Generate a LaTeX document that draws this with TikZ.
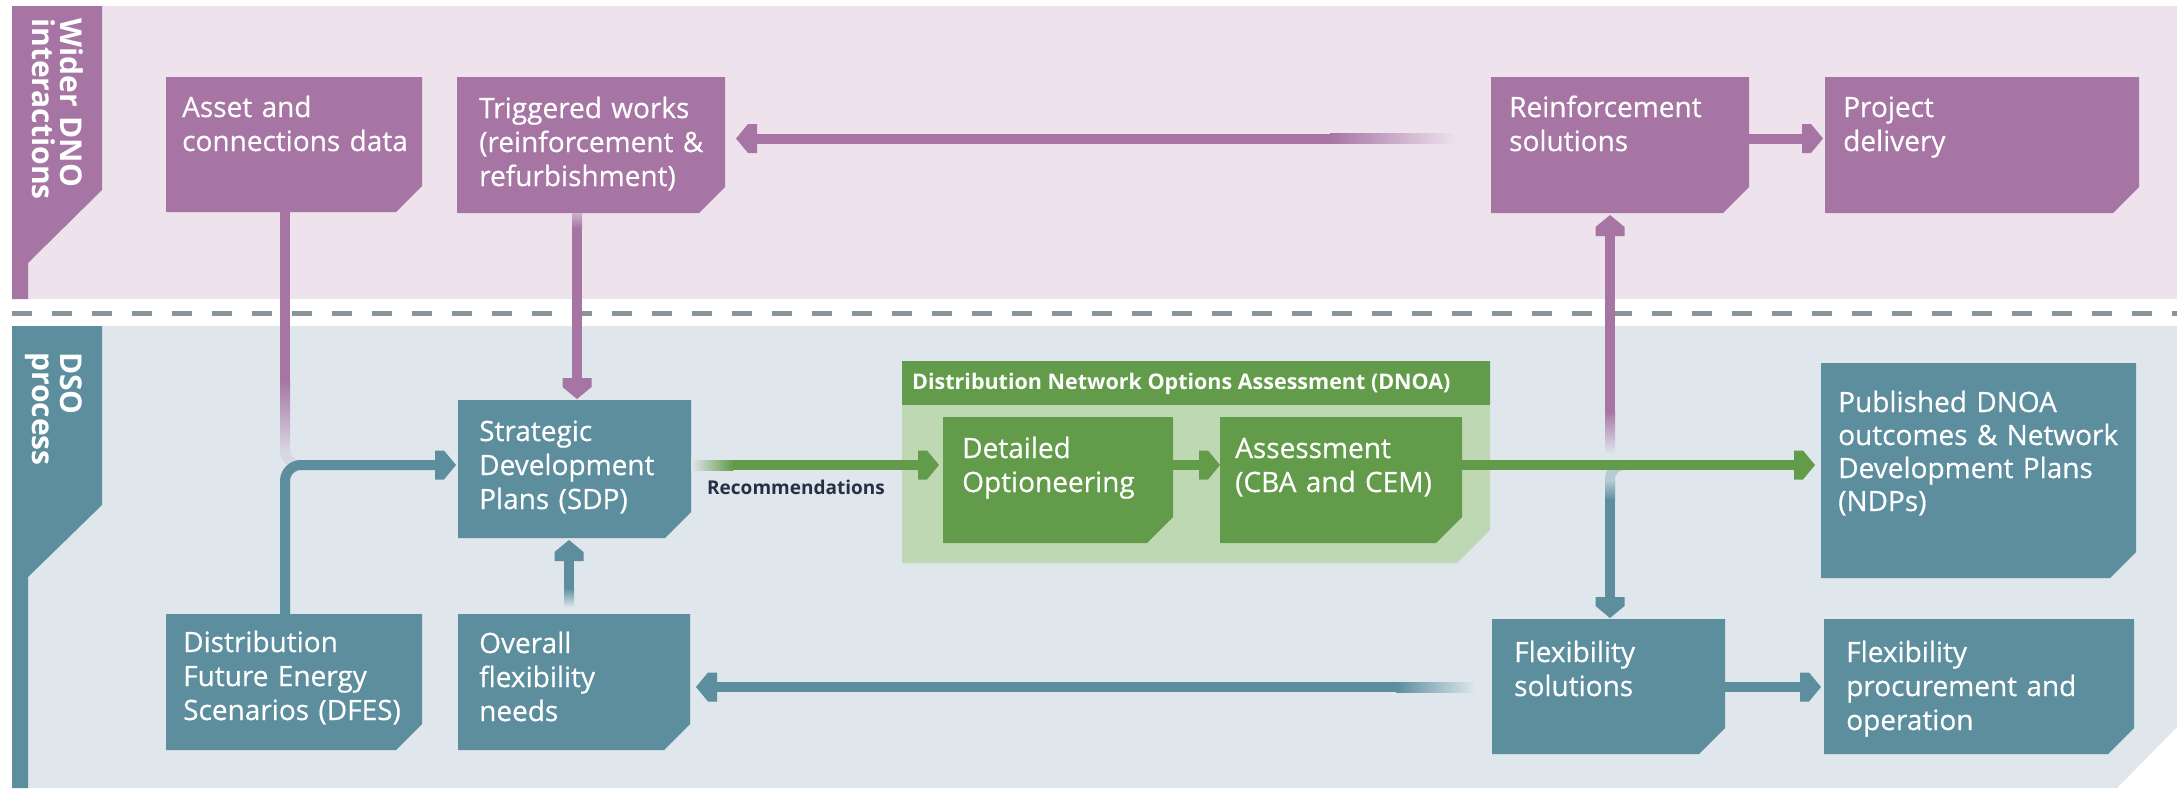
\documentclass[tikz,border=0pt]{standalone}
\usepackage{fontspec}
\setmainfont{Open Sans}
\newfontfamily\boxfont{Open Sans}[FakeBold=0.5]
\usetikzlibrary{arrows.meta}
\definecolor{pinkbg}{RGB}{238,226,236}
\definecolor{bluebg}{RGB}{223,230,236}
\definecolor{purp}{RGB}{166,117,164}
\definecolor{tealx}{RGB}{92,142,158}
\definecolor{grn}{RGB}{98,155,73}
\definecolor{lgrn}{RGB}{191,216,180}
\definecolor{dashgray}{RGB}{137,148,155}
\definecolor{navy}{RGB}{38,48,68}

\pgfdeclarearrow{
  name = Pent,
  setup code = {
    \pgfarrowssettipend{0pt}
    \pgfarrowssetlineend{-12pt}
    \pgfarrowssetbackend{-21pt}
    \pgfarrowshullpoint{0pt}{0pt}
    \pgfarrowshullpoint{-21pt}{14.5pt}
    \pgfarrowshullpoint{-21pt}{-14.5pt}
  },
  drawing code = {
    \pgfpathmoveto{\pgfqpoint{0pt}{0pt}}
    \pgfpathlineto{\pgfqpoint{-12pt}{14.5pt}}
    \pgfpathlineto{\pgfqpoint{-21pt}{14.5pt}}
    \pgfpathlineto{\pgfqpoint{-21pt}{-14.5pt}}
    \pgfpathlineto{\pgfqpoint{-12pt}{-14.5pt}}
    \pgfpathclose
    \pgfusepathqfill
  }
}

\newcommand{\chbox}[7]{%
  \fill[#2] (#3,#4) -- (#5,#4) -- (#5,#6-#7) -- (#5-#7,#6) -- (#3,#6) -- cycle;
  \node[boxnode, minimum width=#5-#3, minimum height=#6-#4] (#1) at ({(#3+#5)/2},{(#4+#6)/2}) {};
}

\begin{document}
\begin{tikzpicture}[x=1pt,y=-1pt,
  pl/.style={color=purp, line width=10pt},
  tl/.style={color=tealx, line width=10pt},
  gl/.style={color=grn, line width=10pt},
  boxnode/.style={inner sep=0pt, outer sep=0pt, rectangle},
  btxt/.style={inner sep=0pt, anchor=base west, align=left, text=white,
    font=\boxfont\fontsize{28}{34}\selectfont, text width=#1},
  btxt/.default=300pt,
  sidelbl/.style={inner sep=0pt, anchor=base west, align=left, text=white,
    font=\bfseries\fontsize{30}{28}\selectfont, text width=240pt, rotate=-90}
]
\fill[white] (0,0) rectangle (2177,788);
\useasboundingbox (0,0) rectangle (2177,788);

% bands
\fill[pinkbg] (12,6) rectangle (2177,299);
\fill[bluebg] (12,326) -- (2177,326) -- (2177,727) -- (2117,788) -- (12,788) -- cycle;
\draw[dashgray, line width=5pt, dash pattern=on 20pt off 20pt] (12,313) -- (2177,313);
\fill[purp] (12,6) -- (102,6) -- (102,190) -- (28,263) -- (28,299) -- (12,299) -- cycle;
\fill[tealx] (12,326) -- (102,326) -- (102,505) -- (28,577) -- (28,788) -- (12,788) -- cycle;
\node[sidelbl] (lblw) at (60,18) {Wider DNO\\interactions};
\node[sidelbl] (lbld) at (60,352) {DSO\\process};

% DNOA group
\chbox{dnoah}{grn}{902}{361}{1490}{405}{0}
\chbox{dnoab}{lgrn}{902}{405}{1490}{563}{33}
\node[inner sep=0pt, anchor=base west, text=white, font=\bfseries\fontsize{21.5}{24}\selectfont]
  (dnoat) at (912,389) {Distribution Network Options Assessment (DNOA)};

% boxes
\chbox{asset}{purp}{166}{77}{422}{212}{26}
\chbox{trig}{purp}{457}{77}{725}{213}{26}
\chbox{reinf}{purp}{1491}{77}{1749}{213}{26}
\chbox{proj}{purp}{1825}{77}{2139}{213}{26}
\chbox{sdp}{tealx}{458}{400}{691}{538}{26}
\chbox{dfes}{tealx}{166}{614}{422}{750}{26}
\chbox{over}{tealx}{458}{614}{690}{750}{26}
\chbox{det}{grn}{943}{417}{1173}{543}{26}
\chbox{assess}{grn}{1220}{417}{1462}{543}{26}
\chbox{pub}{tealx}{1821}{363}{2136}{578}{26}
\chbox{flex}{tealx}{1492}{619}{1725}{754}{26}
\chbox{fproc}{tealx}{1824}{619}{2134}{754}{26}

\node[btxt] (assett) at (182,117) {Asset and\\connections data};
\node[btxt] (trigt) at (479,118) {Triggered works\\(reinforcement \&\\refurbishment)};
\node[btxt] (reinft) at (1509,117) {Reinforcement\\solutions};
\node[btxt] (projt) at (1843,117) {Project\\delivery};
\node[btxt] (sdpt) at (479,441) {Strategic\\Development\\Plans (SDP)};
\node[btxt] (dfest) at (183,652) {Distribution\\Future Energy\\Scenarios (DFES)};
\node[btxt] (overt) at (479,653) {Overall\\flexibility\\needs};
\node[btxt] (dett) at (962,458) {Detailed\\Optioneering};
\node[btxt] (assesst) at (1235,458) {Assessment\\(CBA and CEM)};
\node[btxt, font=\boxfont\fontsize{28}{33}\selectfont] (pubt) at (1838,412) {Published DNOA\\outcomes \& Network\\Development Plans\\(NDPs)};
\node[btxt] (flext) at (1514,662) {Flexibility\\solutions};
\node[btxt] (fproct) at (1846,662) {Flexibility\\procurement and\\operation};

% helper coordinates
\coordinate (gy) at (0,465);
\coordinate (ry) at (0,138.5);
\coordinate (fy) at (0,687);
\coordinate (vx) at (1610,0);
\coordinate (ax) at (285,0);
\coordinate (tx) at (577,0);
\coordinate (ox) at (569,0);
\coordinate (pf) at (1610,412);
\coordinate (fb) at (1610,499);

% Asset data (purple, fading into DFES line)
\draw[pl] (ax |- asset.south) -- (285,381);
\shade[top color=purp, bottom color=purp!12!bluebg] (280,380) rectangle (290,452);
\draw[line width=10pt, purp!12!bluebg, rounded corners=15pt] (285,451) |- (320,465);

% DFES -> SDP
\draw[tl, -Pent, rounded corners=16pt, shorten >=2pt] (ax |- dfes.north) |- (sdp.west |- gy);

% Triggered works -> SDP
\draw[pl, -Pent, shorten >=1pt] (tx |- trig.south) -- (tx |- sdp.north);
\shade[top color=purp!45!pinkbg, bottom color=purp] (572,213) rectangle (582,228);

% Overall flexibility needs -> SDP
\draw[tl, -Pent, shorten <=8pt, shorten >=2pt] (ox |- over.north) -- (ox |- sdp.south);
\shade[top color=tealx, bottom color=bluebg] (564,588) rectangle (574,607);

% faded branch down to Flexibility solutions
\draw[line width=10pt, tealx!30!bluebg, rounded corners=14pt] (1628,465) -| (1610,492);
\shade[top color=tealx!30!bluebg, bottom color=tealx] (1605,480) rectangle (1615,500);
\draw[tl, -Pent, shorten >=1pt] (fb) -- (vx |- flex.north);

% up to Reinforcement solutions
\draw[pl, -Pent, shorten >=2pt] (pf) -- (vx |- reinf.south);
\shade[top color=purp, bottom color=bluebg] (1605,411) rectangle (1615,454);

% green flow
\draw[gl, -Pent, shorten >=4pt] (sdp.east |- gy) -- (det.west |- gy);
\shade[left color=bluebg, right color=grn] (691,460) rectangle (733,470);
\draw[gl, -Pent] (det.east |- gy) -- (assess.west |- gy);
\draw[gl, -Pent, shorten >=6pt] (assess.east |- gy) -- (pub.west |- gy);
\node[inner sep=0pt, anchor=base west, text=navy, font=\bfseries\fontsize{19}{22}\selectfont]
  (rec) at (707,494) {Recommendations};

% top row
\draw[pl, -Pent, shorten >=2pt] (reinf.east |- ry) -- (proj.west |- ry);
\draw[pl, -Pent, shorten <=35pt, shorten >=11pt] (reinf.west |- ry) -- (trig.east |- ry);
\shade[left color=purp, right color=pinkbg] (1330,133.5) rectangle (1457,143.5);

% bottom row
\draw[tl, -Pent, shorten <=18pt, shorten >=6pt] (flex.west |- fy) -- (over.east |- fy);
\shade[left color=tealx, right color=bluebg] (1396,682) rectangle (1475,692);
\draw[tl, -Pent, shorten >=3pt] (flex.east |- fy) -- (fproc.west |- fy);
\end{tikzpicture}
\end{document}
